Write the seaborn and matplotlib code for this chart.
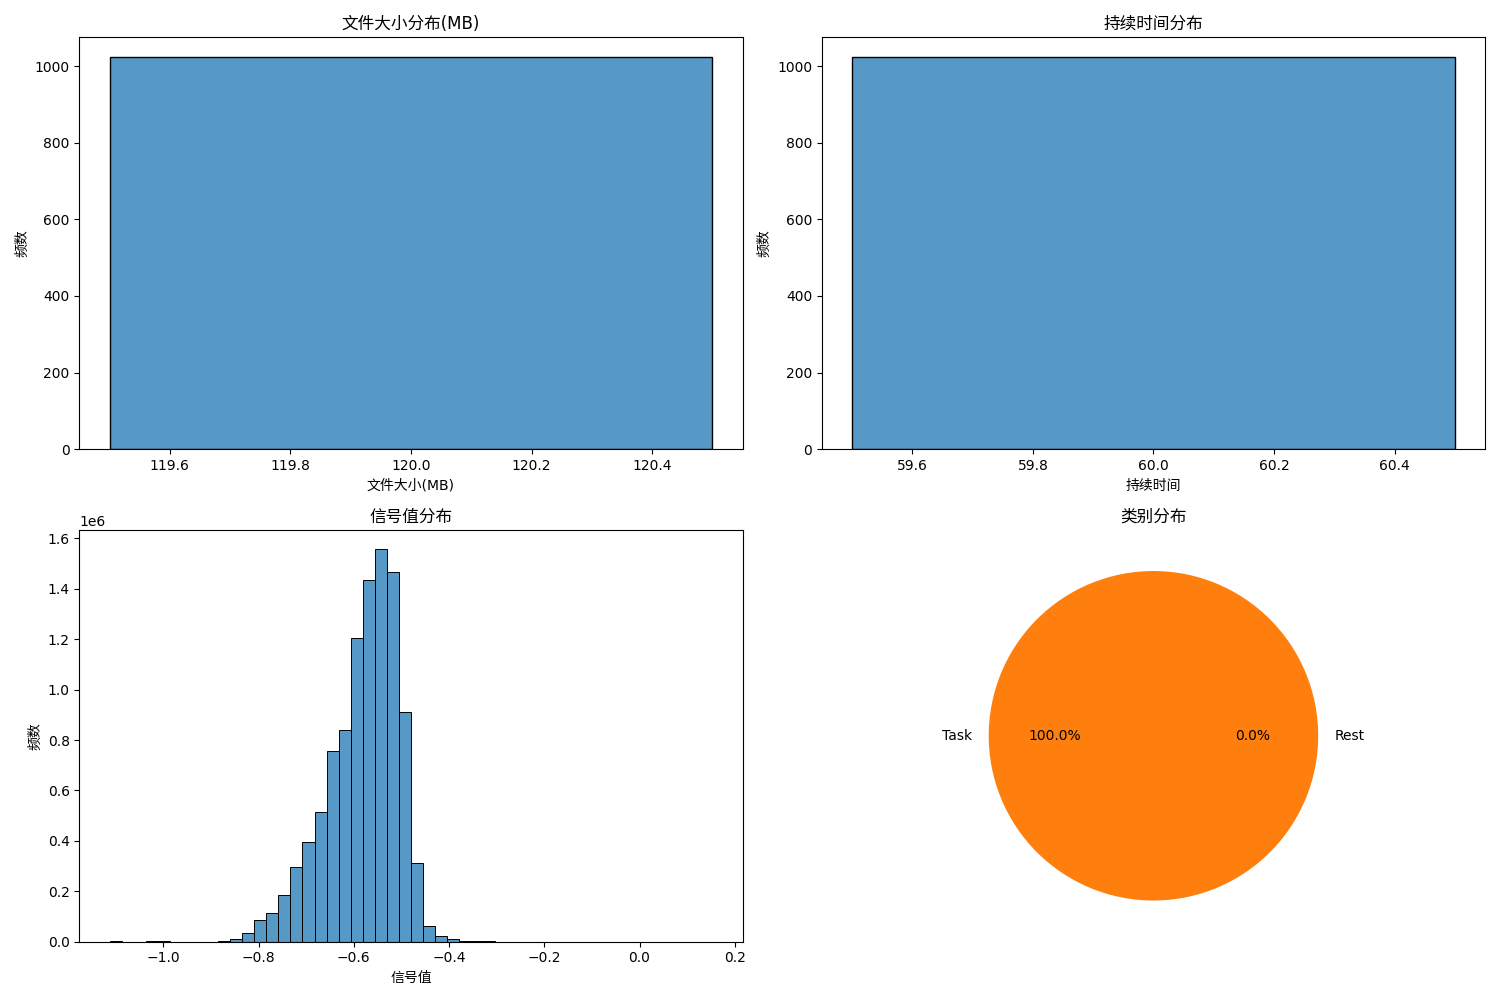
import matplotlib
matplotlib.use("Agg")
import matplotlib.pyplot as plt
import seaborn as sns

# file sizes: every file is 120 MB
size_values = [120.0]
size_counts = [1024]

# durations: every recording is 60 s
duration_values = [60.0]
duration_counts = [1024]

# signal value histogram, bin centres and counts
signal_range = (-1.113, 0.153)
signal_bins = 50
signal_centers = [-1.100, -1.024, -0.999, -0.873, -0.847, -0.822, -0.797,
                  -0.771, -0.746, -0.721, -0.695, -0.670, -0.645, -0.619,
                  -0.594, -0.569, -0.544, -0.518, -0.493, -0.468, -0.442,
                  -0.417, -0.392, -0.366, -0.341, -0.316]
signal_counts = [3000, 2500, 2500, 4000, 12000, 35000, 87000,
                 115000, 186000, 297000, 396000, 515000, 758000, 840000,
                 1204000, 1434000, 1556000, 1465000, 911000, 314000, 63000,
                 21000, 9000, 4000, 3500, 3000]

# task / rest split
state_labels = ["Task", "Rest"]
state_sizes = [100, 0]
state_colors = ["#ff7f0e", "#1f77b4"]

plt.rcParams["font.family"] = ["DejaVu Sans", "Noto Sans CJK SC"]

fig, axes = plt.subplots(2, 2, figsize=(15, 10), dpi=100)

ax = axes[0, 0]
sns.histplot(x=size_values, weights=size_counts, bins=1, ax=ax)
ax.set_title("文件大小分布(MB)")
ax.set_xlabel("文件大小(MB)")
ax.set_ylabel("频数")

ax = axes[0, 1]
sns.histplot(x=duration_values, weights=duration_counts, bins=1, ax=ax)
ax.set_title("持续时间分布")
ax.set_xlabel("持续时间")
ax.set_ylabel("频数")

ax = axes[1, 0]
sns.histplot(x=signal_centers, weights=signal_counts, bins=signal_bins,
             binrange=signal_range, ax=ax)
ax.set_title("信号值分布")
ax.set_xlabel("信号值")
ax.set_ylabel("频数")

ax = axes[1, 1]
ax.pie(state_sizes, labels=state_labels, colors=state_colors,
       autopct="%1.1f%%")
ax.set_title("类别分布")

plt.tight_layout()
fig.savefig("out.png")
